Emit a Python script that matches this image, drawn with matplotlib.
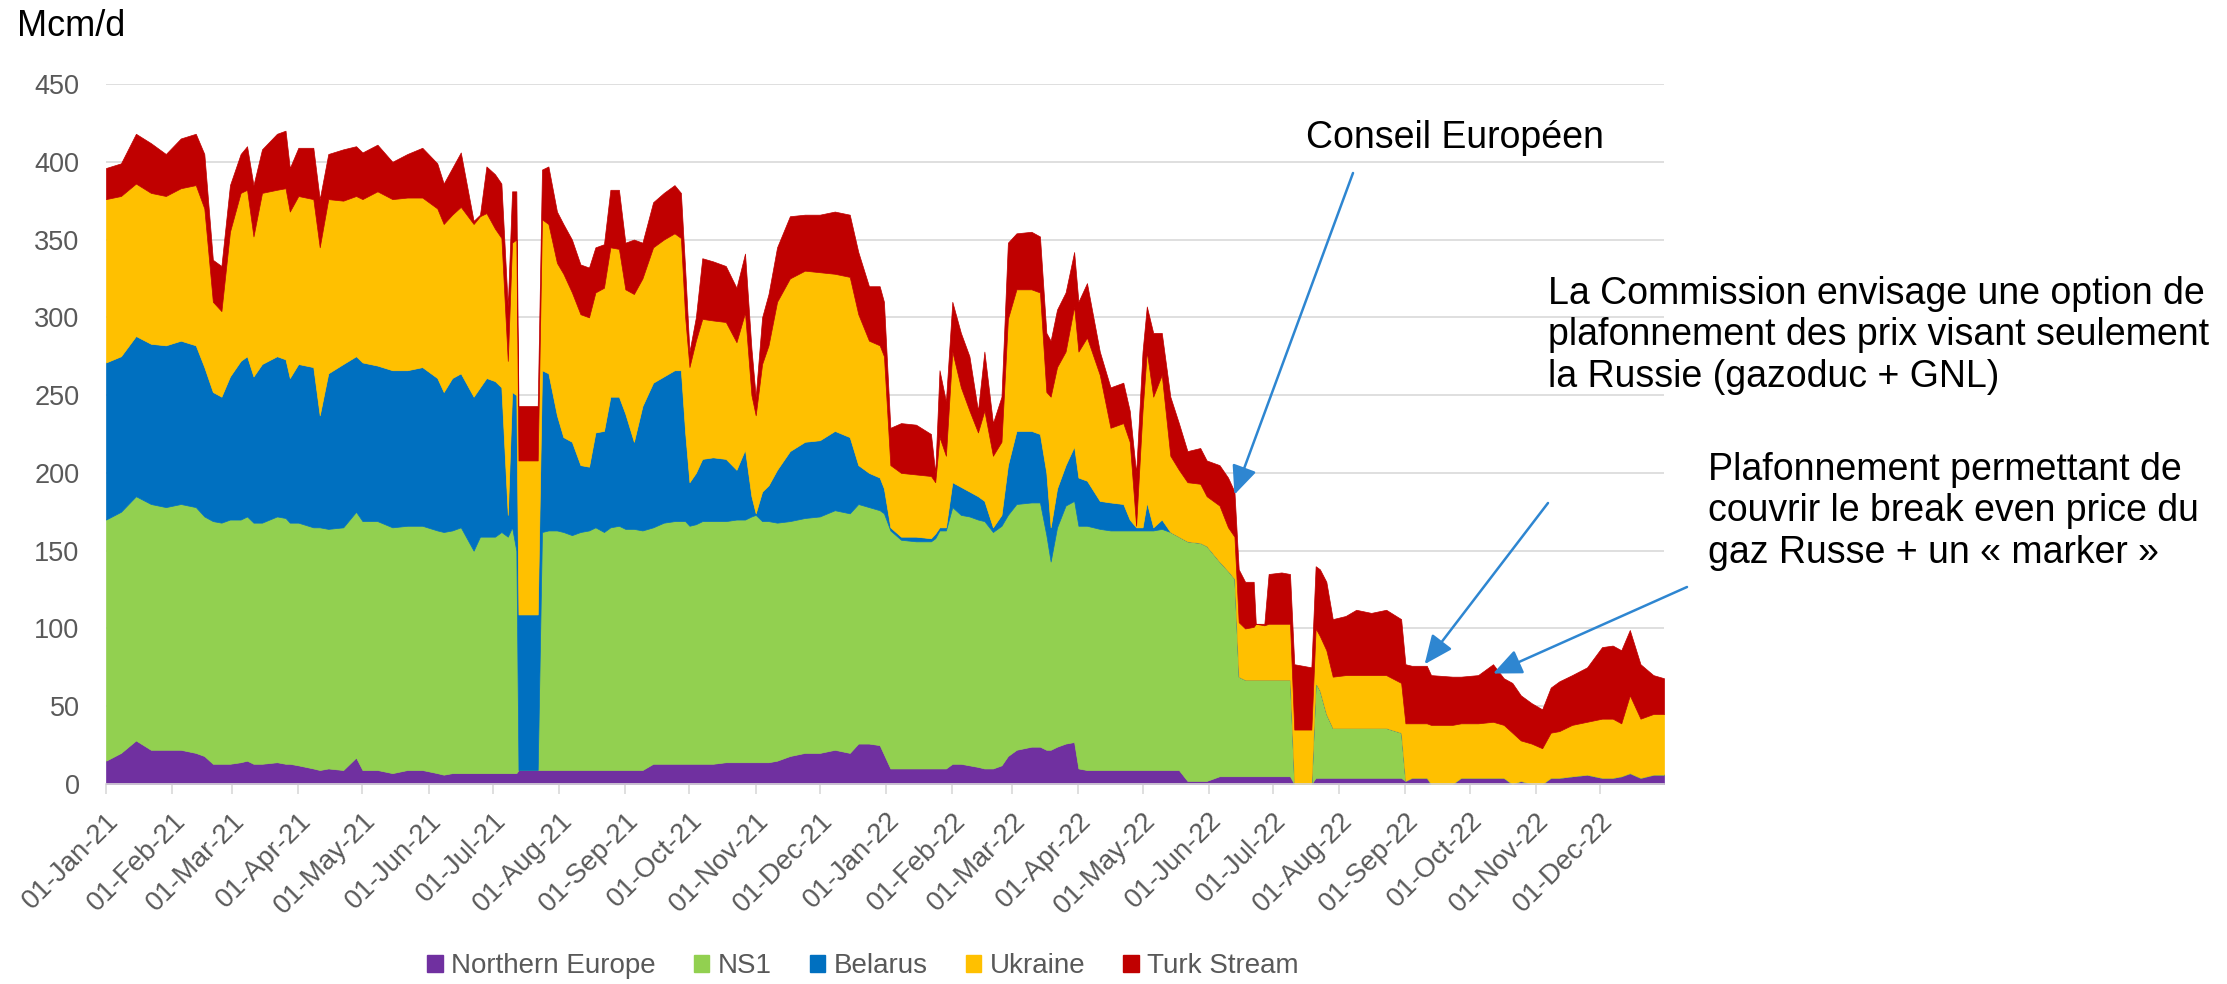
"""Russian pipeline gas flows to Europe by route, 2021-2022 (stacked area, Mcm/d),
with the three price-cap annotations."""
import matplotlib
matplotlib.use("Agg")
import matplotlib.pyplot as plt
import matplotlib.dates as mdates
import pandas as pd

dates = [
    "2021-01-01", "2021-01-08", "2021-01-15", "2021-01-22", "2021-01-29", "2021-02-05", "2021-02-12",
    "2021-02-16", "2021-02-20", "2021-02-24", "2021-02-28", "2021-03-05", "2021-03-08", "2021-03-11",
    "2021-03-15", "2021-03-22", "2021-03-26", "2021-03-28", "2021-04-01", "2021-04-08", "2021-04-11",
    "2021-04-15", "2021-04-22", "2021-04-28", "2021-05-01", "2021-05-08", "2021-05-15", "2021-05-22",
    "2021-05-29", "2021-06-05", "2021-06-08", "2021-06-12", "2021-06-16", "2021-06-22", "2021-06-25",
    "2021-06-28", "2021-07-02", "2021-07-05", "2021-07-08", "2021-07-10", "2021-07-12", "2021-07-13",
    "2021-07-22", "2021-07-24", "2021-07-27", "2021-07-31", "2021-08-03", "2021-08-07", "2021-08-11",
    "2021-08-15", "2021-08-18", "2021-08-22", "2021-08-25", "2021-08-29", "2021-09-01", "2021-09-05",
    "2021-09-09", "2021-09-14", "2021-09-19", "2021-09-24", "2021-09-27", "2021-09-29", "2021-10-01",
    "2021-10-04", "2021-10-07", "2021-10-12", "2021-10-18", "2021-10-23", "2021-10-27", "2021-10-30",
    "2021-11-01", "2021-11-04", "2021-11-07", "2021-11-11", "2021-11-17", "2021-11-24", "2021-12-01",
    "2021-12-08", "2021-12-15", "2021-12-19", "2021-12-24", "2021-12-29", "2021-12-31", "2022-01-03",
    "2022-01-08", "2022-01-15", "2022-01-22", "2022-01-24", "2022-01-26", "2022-01-29", "2022-02-01",
    "2022-02-05", "2022-02-09", "2022-02-13", "2022-02-16", "2022-02-20", "2022-02-24", "2022-02-27",
    "2022-03-03", "2022-03-10", "2022-03-14", "2022-03-17", "2022-03-19", "2022-03-22", "2022-03-26",
    "2022-03-30", "2022-04-01", "2022-04-05", "2022-04-11", "2022-04-16", "2022-04-22", "2022-04-25",
    "2022-04-28", "2022-05-01", "2022-05-03", "2022-05-06", "2022-05-10", "2022-05-14", "2022-05-18",
    "2022-05-22", "2022-05-28", "2022-05-31", "2022-06-06", "2022-06-10", "2022-06-13", "2022-06-15",
    "2022-06-18", "2022-06-22", "2022-06-23", "2022-06-27", "2022-06-29", "2022-07-05", "2022-07-09",
    "2022-07-11", "2022-07-19", "2022-07-21", "2022-07-23", "2022-07-26", "2022-07-29", "2022-08-04",
    "2022-08-09", "2022-08-16", "2022-08-23", "2022-08-30", "2022-09-01", "2022-09-04", "2022-09-11",
    "2022-09-13", "2022-09-23", "2022-09-27", "2022-10-05", "2022-10-12", "2022-10-17", "2022-10-21",
    "2022-10-25", "2022-10-30", "2022-11-04", "2022-11-08", "2022-11-12", "2022-11-18", "2022-11-25",
    "2022-12-02", "2022-12-07", "2022-12-11", "2022-12-15", "2022-12-20", "2022-12-26", "2022-12-31",
]
northern_europe = [
    15, 20, 28, 22, 22, 22, 20,
    18, 13, 13, 13, 14, 15, 13,
    13, 14, 13, 13, 12, 10, 9,
    10, 9, 17, 9, 9, 7, 9,
    9, 7, 6, 7, 7, 7, 7,
    7, 7, 7, 7, 7, 7, 9,
    9, 9, 9, 9, 9, 9, 9,
    9, 9, 9, 9, 9, 9, 9,
    9, 13, 13, 13, 13, 13, 13,
    13, 13, 13, 14, 14, 14, 14,
    14, 14, 14, 15, 18, 20, 20,
    22, 20, 26, 26, 25, 19, 10,
    10, 10, 10, 10, 10, 10, 13,
    13, 12, 11, 10, 10, 12, 18,
    22, 24, 24, 22, 22, 24, 26,
    27, 10, 9, 9, 9, 9, 9,
    9, 9, 9, 9, 9, 9, 9,
    2, 2, 2, 5, 5, 5, 5,
    5, 5, 5, 5, 5, 5, 5,
    0, 0, 4, 4, 4, 4, 4,
    4, 4, 4, 4, 2, 4, 4,
    0, 0, 4, 4, 4, 4, 0,
    2, 0, 0, 4, 4, 5, 6,
    4, 4, 5, 7, 4, 6, 6,
]
ns1 = [
    155, 155, 157, 158, 156, 158, 158,
    154, 156, 155, 157, 156, 157, 155,
    155, 158, 158, 155, 156, 155, 156,
    154, 156, 158, 160, 160, 158, 157,
    157, 156, 156, 156, 158, 143, 152,
    152, 152, 155, 152, 158, 143, 0,
    0, 153, 154, 154, 153, 151, 153,
    154, 156, 153, 156, 157, 155, 155,
    154, 152, 155, 156, 156, 156, 153,
    154, 156, 156, 155, 156, 156, 158,
    159, 155, 155, 153, 151, 151, 152,
    154, 154, 154, 152, 151, 155, 153,
    147, 146, 146, 148, 153, 153, 165,
    160, 160, 159, 159, 152, 154, 155,
    158, 157, 157, 138, 121, 141, 153,
    155, 156, 157, 155, 154, 154, 154,
    154, 154, 154, 154, 155, 153, 150,
    154, 153, 151, 138, 132, 127, 64,
    62, 62, 62, 62, 62, 62, 62,
    0, 0, 61, 56, 41, 32, 32,
    32, 32, 32, 29, 0, 0, 0,
    0, 0, 0, 0, 0, 0, 0,
    0, 0, 0, 0, 0, 0, 0,
    0, 0, 0, 0, 0, 0, 0,
]
belarus = [
    101, 100, 103, 103, 104, 105, 104,
    96, 83, 81, 92, 102, 103, 94,
    102, 103, 102, 93, 102, 103, 72,
    100, 105, 100, 102, 100, 101, 100,
    102, 98, 90, 98, 99, 99, 96,
    102, 100, 93, 14, 87, 100, 100,
    100, 104, 101, 74, 61, 60, 43,
    41, 61, 65, 84, 83, 74, 56,
    80, 93, 94, 97, 97, 57, 28,
    33, 40, 41, 40, 32, 45, 13,
    1, 19, 23, 34, 45, 49, 49,
    51, 49, 25, 22, 21, 16, 2,
    2, 3, 2, 3, 2, 2, 16,
    18, 16, 15, 13, 3, 7, 32,
    47, 46, 44, 40, 22, 25, 26,
    35, 31, 29, 18, 18, 17, 7,
    2, 2, 18, 2, 6, 0, 0,
    0, 0, 0, 0, 0, 0, 0,
    0, 0, 0, 0, 0, 0, 0,
    0, 0, 0, 0, 0, 0, 0,
    0, 0, 0, 0, 0, 0, 0,
    0, 0, 0, 0, 0, 0, 0,
    0, 0, 0, 0, 0, 0, 0,
    0, 0, 0, 0, 0, 0, 0,
]
ukraine = [
    105, 103, 98, 97, 96, 98, 103,
    102, 58, 55, 93, 108, 107, 90,
    110, 107, 110, 107, 108, 108, 108,
    112, 105, 103, 105, 112, 110, 111,
    109, 109, 108, 105, 107, 111, 110,
    106, 98, 96, 99, 96, 100, 99,
    99, 97, 96, 98, 105, 96, 97,
    96, 90, 92, 96, 95, 80, 95,
    82, 87, 88, 88, 85, 74, 74,
    85, 90, 88, 88, 82, 88, 65,
    63, 82, 90, 108, 111, 110, 108,
    101, 103, 97, 85, 85, 85, 40,
    41, 40, 40, 33, 58, 46, 84,
    64, 52, 41, 58, 46, 47, 94,
    91, 91, 91, 52, 84, 78, 73,
    90, 81, 92, 81, 48, 52, 50,
    1, 75, 97, 84, 93, 49, 43,
    38, 38, 32, 36, 28, 27, 35,
    33, 34, 36, 35, 36, 36, 36,
    35, 35, 35, 35, 41, 33, 34,
    34, 34, 34, 32, 37, 35, 35,
    38, 38, 35, 35, 36, 34, 33,
    26, 26, 23, 29, 30, 33, 34,
    38, 38, 34, 50, 38, 39, 39,
]
turk_stream = [
    20, 21, 32, 32, 27, 32, 33,
    35, 27, 29, 30, 25, 28, 33,
    28, 36, 37, 28, 31, 33, 31,
    29, 33, 32, 30, 30, 24, 28,
    32, 29, 26, 30, 35, 2, 1,
    30, 35, 35, 35, 33, 31, 35,
    35, 32, 37, 33, 32, 34, 32,
    32, 29, 28, 37, 38, 30, 35,
    23, 29, 30, 31, 29, 31, 10,
    15, 39, 38, 36, 35, 38, 30,
    12, 30, 33, 35, 40, 36, 37,
    40, 40, 40, 35, 38, 35, 24,
    32, 32, 27, 6, 43, 35, 32,
    35, 35, 14, 38, 21, 29, 49,
    36, 37, 36, 38, 36, 37, 38,
    35, 32, 35, 15, 26, 26, 20,
    34, 38, 29, 41, 27, 38, 30,
    20, 23, 23, 26, 32, 29, 34,
    30, 29, 0, 1, 32, 33, 32,
    42, 40, 40, 43, 44, 37, 38,
    42, 40, 42, 41, 38, 37, 37,
    32, 31, 30, 31, 37, 30, 32,
    29, 26, 25, 29, 32, 32, 35,
    46, 47, 47, 42, 35, 25, 23,
]

labels = ["Northern Europe", "NS1", "Belarus", "Ukraine", "Turk Stream"]
colors = ["#7030A0", "#92D050", "#0070C0", "#FFC000", "#C00000"]
ARROW = "#2E86D1"
GRID = "#D9D9D9"
TICK = "#595959"

plt.rcParams["font.family"] = ["Liberation Sans", "DejaVu Sans"]
W, H = 2227, 984
fig = plt.figure(figsize=(W / 100, H / 100), dpi=100)
ax = fig.add_axes([106 / W, 1 - 784 / H, (1664 - 106) / W, 700 / H])

x = pd.to_datetime(dates)
polys = ax.stackplot(x, northern_europe, ns1, belarus, ukraine, turk_stream,
                     colors=colors, labels=labels)
for p, c in zip(polys, colors):
    p.set_edgecolor(c)
    p.set_linewidth(0.5)

ax.set_xlim(pd.Timestamp("2021-01-01"), pd.Timestamp("2022-12-31"))
ax.set_ylim(0, 450)
ax.set_yticks(range(0, 451, 50))
ax.yaxis.grid(True, color=GRID, lw=1.2)
ax.set_axisbelow(True)
for s in ("left", "right", "top"):
    ax.spines[s].set_visible(False)
ax.spines["bottom"].set_color(GRID)
ax.spines["bottom"].set_linewidth(1.2)

ax.xaxis.set_major_locator(mdates.MonthLocator(bymonthday=1))
ax.xaxis.set_major_formatter(mdates.DateFormatter("%d-%b-%y"))
ax.tick_params(axis="y", length=0, pad=19, labelsize=19.5, labelcolor=TICK)
ax.tick_params(axis="x", length=7, width=1.2, color=GRID, pad=10, labelsize=19.8, labelcolor=TICK)
for t in ax.get_xticklabels():
    t.set_rotation(45)
    t.set_ha("right")
    t.set_va("top")
    t.set_rotation_mode("anchor")

fig.text(17 / W, 1 - 36 / H, "Mcm/d", fontsize=26, va="baseline", ha="left")

handles = [plt.Rectangle((0, 0), 1, 1, color=c) for c in colors]
fig.legend(handles, labels, loc="center", bbox_to_anchor=(863 / W, 1 - 966 / H), ncol=5,
           frameon=False, fontsize=20, labelcolor=TICK, handlelength=0.55, handleheight=0.55,
           handletextpad=0.3, columnspacing=1.38)

# annotations: text placed in figure pixels, arrow tips on the data
notes = [
    ("Conseil Européen", (1306, 148), (1353, 173), ("2022-06-13", 186)),
    ("La Commission envisage une option de\nplafonnement des prix visant seulement\nla Russie (gazoduc + GNL)",
     (1548, 387), (1548, 503), ("2022-09-10", 77)),
    ("Plafonnement permettant de\ncouvrir le break even price du\ngaz Russe + un « marker »",
     (1708, 563), (1687, 587), ("2022-10-12", 71)),
]
for txt, (tx, ty), (sx, sy), (d, v) in notes:
    fig.text(tx / W, 1 - ty / H, txt, fontsize=27, va="baseline", ha="left", linespacing=1.2)
    ax.annotate("", xy=(pd.Timestamp(d), v), xycoords="data",
                xytext=(sx / W, 1 - sy / H), textcoords="figure fraction",
                annotation_clip=False,
                arrowprops=dict(arrowstyle="-|>,head_length=0.8,head_width=0.35", color=ARROW,
                                lw=1.8, mutation_scale=22, shrinkA=0, shrinkB=0))

fig.savefig("out.png", dpi=100)
